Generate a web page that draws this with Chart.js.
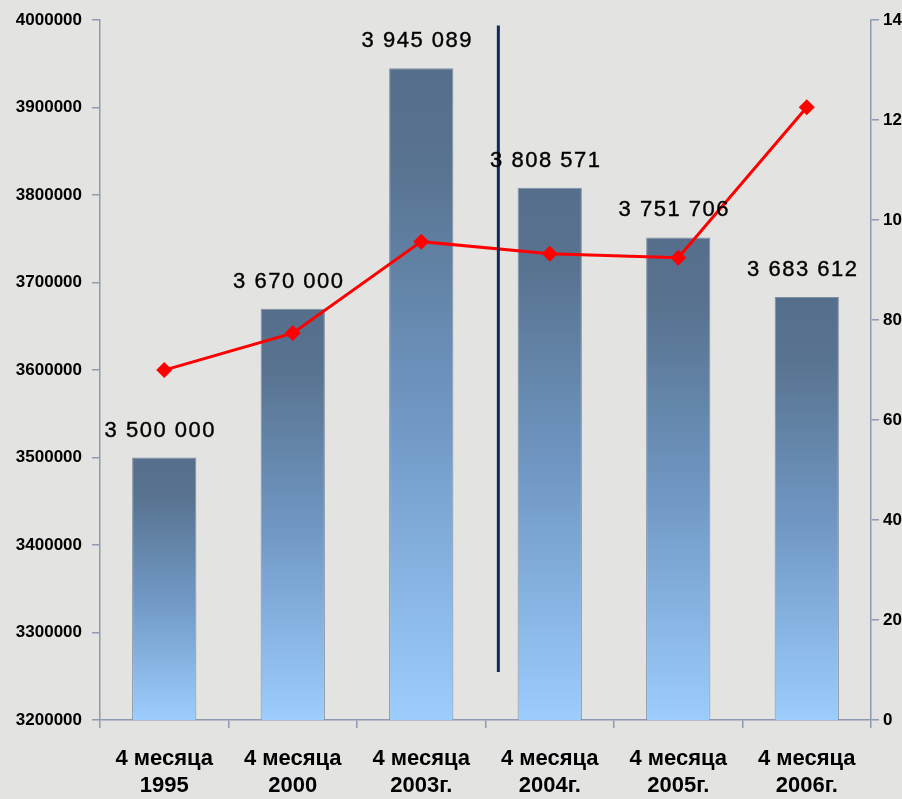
<!DOCTYPE html>
<html>
<head>
<meta charset="utf-8">
<script src="https://cdn.jsdelivr.net/npm/chart.js@4/dist/chart.umd.min.js"></script>
<style>
  html, body { margin: 0; padding: 0; overflow: hidden; background: #e3e3e1; }
  #wrap { width: 930px; height: 799px; }
</style>
</head>
<body>
<div id="wrap"><canvas id="c" width="930" height="799"></canvas></div>
<script>
const categories = [["4 месяца", "1995"], ["4 месяца", "2000"], ["4 месяца", "2003г."], ["4 месяца", "2004г."], ["4 месяца", "2005г."], ["4 месяца", "2006г."]];
const barValues = [3500000, 3670000, 3945089, 3808571, 3751706, 3683612];
const barLabels = ["3 500 000", "3 670 000", "3 945 089", "3 808 571", "3 751 706", "3 683 612"];
const lineValues = [70.0, 77.4, 95.7, 93.3, 92.5, 122.6];
const leftTicks = [3200000, 3300000, 3400000, 3500000, 3600000, 3700000, 3800000, 3900000, 4000000];
const rightTicks = [0, 20, 40, 60, 80, 100, 120, 140];

const AXIS = '#8d9ab0';

const barLabelPlugin = {
  id: 'barLabels',
  afterDatasetsDraw(chart) {
    const meta = chart.getDatasetMeta(0);
    const ctx = chart.ctx;
    ctx.save();
    ctx.font = '22px "Liberation Sans", Arial, sans-serif';
    if ('letterSpacing' in ctx) ctx.letterSpacing = '1.5px';
    ctx.fillStyle = '#000';
    ctx.strokeStyle = '#000';
    ctx.lineWidth = 0.4;
    ctx.textAlign = 'center';
    ctx.textBaseline = 'alphabetic';
    meta.data.forEach((el, i) => {
      ctx.fillText(barLabels[i], el.x - 4, el.y - 21);
      ctx.strokeText(barLabels[i], el.x - 4, el.y - 21);
    });
    ctx.restore();
  }
};

const dividerPlugin = {
  id: 'divider',
  afterDatasetsDraw(chart) {
    const x = chart.scales.x, y = chart.scales.y;
    const px = x.getPixelForValue(2.6);
    const ctx = chart.ctx;
    ctx.save();
    ctx.strokeStyle = '#0e2b5c';
    ctx.lineWidth = 3;
    ctx.beginPath();
    ctx.moveTo(px, y.getPixelForValue(3994000));
    ctx.lineTo(px, y.getPixelForValue(3255000));
    ctx.stroke();
    ctx.restore();
  }
};

function barGradient(c) {
  const chart = c.chart;
  if (!chart.chartArea || c.raw === undefined) return '#6f8fb3';
  const ys = chart.scales.y;
  const top = ys.getPixelForValue(c.raw);
  const g = chart.ctx.createLinearGradient(0, top, 0, ys.bottom);
  g.addColorStop(0, '#556e8b');
  g.addColorStop(0.15, '#587390');
  g.addColorStop(0.55, '#7199c6');
  g.addColorStop(1, '#9ccdfd');
  return g;
}

new Chart(document.getElementById('c'), {
  data: {
    labels: categories,
    datasets: [
      {
        type: 'bar',
        data: barValues,
        yAxisID: 'y',
        backgroundColor: barGradient,
        borderColor: '#7f8ea3',
        borderWidth: 1,
        borderSkipped: 'bottom',
        categoryPercentage: 1.0,
        barPercentage: 0.5,
        order: 2
      },
      {
        type: 'line',
        data: lineValues,
        yAxisID: 'y1',
        borderColor: '#ff0000',
        backgroundColor: '#ff0000',
        borderWidth: 3,
        pointStyle: 'rectRot',
        pointRadius: 8,
        pointHoverRadius: 8,
        pointBorderWidth: 0,
        tension: 0,
        order: 1
      }
    ]
  },
  options: {
    responsive: false,
    animation: false,
    devicePixelRatio: 1,
    layout: { padding: { top: 17, left: 0, right: 0, bottom: 0 } },
    plugins: { legend: { display: false }, tooltip: { enabled: false } },
    scales: {
      x: {
        offset: true,
        grid: { display: true, drawOnChartArea: false, offset: true, color: AXIS, tickLength: 8, lineWidth: 1.5 },
        border: { color: AXIS, width: 1.5 },
        ticks: {
          color: '#000',
          font: { family: '"Liberation Sans", Arial, sans-serif', size: 22, weight: 'bold', lineHeight: 1.25 },
          maxRotation: 0,
          padding: 17,
          autoSkip: false
        },
        afterFit(s) { s.height = 79; }
      },
      y: {
        position: 'left',
        min: 3200000,
        max: 4000000,
        afterBuildTicks(s) { s.ticks = leftTicks.map(v => ({ value: v })); },
        grid: { display: true, drawOnChartArea: false, color: AXIS, tickLength: 8, lineWidth: 1.5 },
        border: { color: AXIS, width: 1.5 },
        ticks: {
          color: '#000',
          font: { family: '"Liberation Sans", Arial, sans-serif', size: 17, weight: 'bold' },
          padding: 10,
          callback: v => String(v)
        },
        afterFit(s) { s.width = 100; }
      },
      y1: {
        position: 'right',
        min: 0,
        max: 140,
        afterBuildTicks(s) { s.ticks = rightTicks.map(v => ({ value: v })); },
        grid: { display: true, drawOnChartArea: false, color: AXIS, tickLength: 8, lineWidth: 1.5 },
        border: { color: AXIS, width: 1.5 },
        ticks: {
          color: '#000',
          font: { family: '"Liberation Sans", Arial, sans-serif', size: 17, weight: 'bold' },
          padding: 4,
          callback: v => String(v)
        },
        afterFit(s) { s.width = 59; }
      }
    }
  },
  plugins: [dividerPlugin, barLabelPlugin]
});
</script>
</body>
</html>
